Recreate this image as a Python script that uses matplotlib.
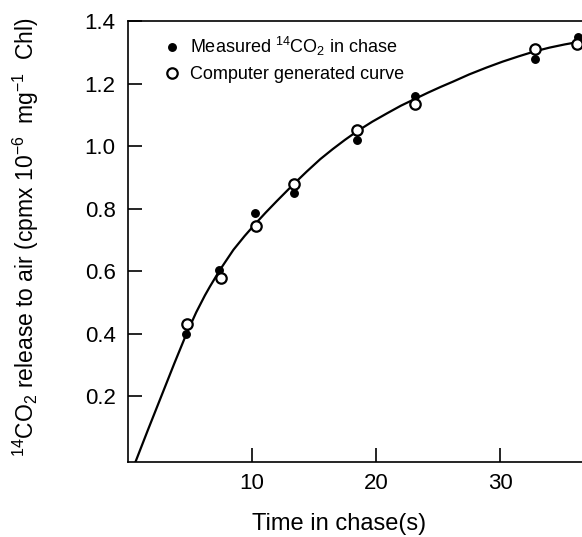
import matplotlib

matplotlib.use("Agg")
import matplotlib.pyplot as plt

plt.rcParams["font.family"] = ["Liberation Sans", "DejaVu Sans"]
plt.rcParams["mathtext.default"] = "regular"

# values
measured_t = [4.7, 7.31, 10.24, 13.39, 18.44, 23.15, 32.82, 36.26]
measured_y = [0.40, 0.603, 0.787, 0.85, 1.019, 1.16, 1.277, 1.35]
computed_t = [4.76, 7.47, 10.3, 13.39, 18.44, 23.15, 32.82, 36.2]
computed_y = [0.43, 0.577, 0.745, 0.878, 1.051, 1.133, 1.31, 1.325]

# fitted curve
curve_t = [0.6, 1.6, 2.7, 3.75, 4.7, 5.5, 6.2, 6.6, 7.4, 8.5, 9.4, 10.24,
           11.1, 12.0, 13.3, 14.4, 15.5, 16.5, 17.5, 18.5, 19.7, 20.9, 22.0,
           23.2, 24.2, 25.2, 26.2, 27.5, 28.9, 30.2, 31.5, 32.8, 34.0, 35.2,
           36.6]
curve_y = [-0.011, 0.091, 0.201, 0.306, 0.398, 0.468, 0.522, 0.550, 0.603,
           0.668, 0.712, 0.750, 0.787, 0.824, 0.876, 0.918, 0.958, 0.990,
           1.020, 1.048, 1.078, 1.105, 1.129, 1.152, 1.171, 1.189, 1.206,
           1.229, 1.251, 1.270, 1.287, 1.303, 1.315, 1.325, 1.335]

x_ticks = [10, 20, 30]
y_ticks = [0.2, 0.4, 0.6, 0.8, 1.0, 1.2, 1.4]


def main():
    fig = plt.figure(figsize=(5.82, 5.37), dpi=100)
    ax = fig.add_axes([128 / 582, 75 / 537, 454 / 582, 441 / 537])

    ax.plot(curve_t, curve_y, color="black", lw=1.6, zorder=2,
            solid_joinstyle="round")
    ax.plot(measured_t, measured_y, "o", color="black", ms=5.4, zorder=3,
            label=r"Measured $^{14}$CO$_2$ in chase")
    ax.plot(computed_t, computed_y, "o", mfc="white", mec="black", mew=1.6,
            ms=7.5, zorder=4, label="Computer generated curve")

    ax.set_xlim(0, 36.6)
    ax.set_ylim(-0.011, 1.4)
    ax.set_xticks(x_ticks)
    ax.set_yticks(y_ticks)
    ax.set_yticklabels([f"{v:.1f}" for v in y_ticks])
    ax.tick_params(direction="in", length=10, width=1.2, labelsize=16)
    ax.tick_params(axis="x", pad=8)
    ax.tick_params(axis="y", pad=9)
    ax.spines["right"].set_visible(False)
    for side in ("left", "bottom", "top"):
        ax.spines[side].set_linewidth(1.2)

    ax.set_xlabel("Time in chase(s)", fontsize=17)
    ax.xaxis.set_label_coords(0.465, -0.116)
    ax.set_ylabel(r"$^{14}$CO$_2$ release to air (cpmx 10$^{-6}$  mg$^{-1}$  Chl)",
                  fontsize=16.5)
    ax.yaxis.set_label_coords(-0.192, 0.51)

    ax.legend(loc="upper left", bbox_to_anchor=(0.078, 0.968), frameon=False,
              fontsize=13, handlelength=1.0, handletextpad=0.5,
              labelspacing=0.45, borderpad=0, borderaxespad=0)

    fig.savefig("out.png", dpi=100)
    plt.close(fig)


if __name__ == "__main__":
    main()
